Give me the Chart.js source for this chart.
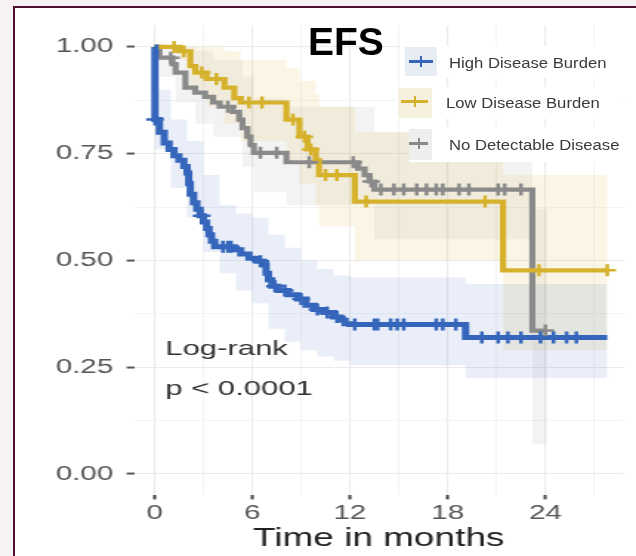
<!DOCTYPE html>
<html>
<head>
<meta charset="utf-8">
<script src="https://cdn.jsdelivr.net/npm/chart.js@4.4.1/dist/chart.umd.min.js"></script>
<style>
  html, body { margin: 0; padding: 0; overflow: hidden; }
  body { width: 636px; height: 556px; background: #f7f1f3; position: relative;
         font-family: "Liberation Sans", Arial, sans-serif; }
  #frame { position: absolute; left: 13px; top: 6px; width: 621px; height: 548px; background: #fff;
           border-left: 2px solid #4d1030; border-top: 2px solid #4d1030; }
  /* the source figure was stretched sideways, so the plot canvas is too */
  #plot { position: absolute; left: 0; top: 0; transform-origin: 0 0; transform: scaleX(1.479); }
  #title { position: absolute; left: 308px; top: 22px; font: bold 39px "Liberation Sans", Arial, sans-serif;
           line-height: 39px; color: #000; }
  .leg { position: absolute; background: #fff; }
  .leg .sym { position: absolute; }
  .leg .ln { position: absolute; height: 3px; }
  .leg .tk { position: absolute; width: 2px; height: 11px; }
  .leg .txt { position: absolute; font-size: 14px; line-height: 16px; color: #3a3a3a; white-space: nowrap;
              transform-origin: 0 50%; transform: scaleX(1.19); }
</style>
</head>
<body>
<div id="frame"></div>
<canvas id="plot" width="430" height="556"></canvas>
<div id="title">EFS</div>
<div id="legend"></div>
<script>
const seriesNames = ['High Disease Burden', 'Low Disease Burden', 'No Detectable Disease'];
const seriesColors = ['#3566bb', '#d6b22c', '#8a8a8a'];
const bandColors = ['rgba(53,102,187,0.11)', 'rgba(214,178,44,0.13)', 'rgba(138,138,138,0.10)'];

const xTicks = [0, 6, 12, 18, 24];
const xMinor = [3, 9, 15, 21, 27];
const yTicks = [0, 0.25, 0.5, 0.75, 1];
const yTickLabels = ['0.00', '0.25', '0.50', '0.75', '1.00'];
const yMinor = [0.125, 0.375, 0.625, 0.875];

// High Disease Burden
const highTime = [0, 0.03, 0.3, 0.6, 0.9, 1.2, 1.5, 1.8, 2.0, 2.1, 2.2, 2.4, 2.6, 2.8, 3.0, 3.2, 3.35, 3.5, 3.7, 4.9,
  5.3, 5.8, 6.3, 6.7, 6.85, 7.0, 7.2, 7.6, 8.2, 8.8, 9.3, 9.8, 10.4, 11.0, 11.4, 11.7, 12.0, 19.1, 27.8];
const highSurv = [1, 0.83, 0.80, 0.775, 0.76, 0.745, 0.735, 0.72, 0.705, 0.68, 0.655, 0.635, 0.62, 0.605, 0.59, 0.575, 0.56, 0.545, 0.532, 0.525,
  0.515, 0.505, 0.498, 0.49, 0.47, 0.455, 0.44, 0.43, 0.42, 0.41, 0.395, 0.385, 0.378, 0.368, 0.36, 0.352, 0.35, 0.32, 0.32];
const highCensorTime = [0.03, 2.9, 4.2, 4.5, 4.7, 6.5, 7.4, 8.0, 9.0, 10.0, 10.6, 11.2, 12.3, 13.5, 13.7, 14.5, 14.9, 15.3, 17.3, 17.7, 18.5,
  20.1, 21.1, 21.7, 22.5, 23.7, 24.5, 25.3, 25.9];
const highCensorSurv = [0.83, 0.605, 0.532, 0.532, 0.532, 0.498, 0.44, 0.43, 0.41, 0.385, 0.378, 0.368, 0.35, 0.35, 0.35, 0.35, 0.35, 0.35, 0.35, 0.35, 0.35,
  0.32, 0.32, 0.32, 0.32, 0.32, 0.32, 0.32, 0.32];
const highBandTime = [0, 0.03, 1, 2, 3, 4, 5, 6, 7, 8, 9, 10, 11, 12, 19.1, 27.8];
const highUpper = [1, 0.90, 0.83, 0.78, 0.70, 0.63, 0.61, 0.60, 0.56, 0.53, 0.50, 0.48, 0.465, 0.46, 0.445, 0.445];
const highLower = [1, 0.76, 0.67, 0.60, 0.52, 0.47, 0.43, 0.40, 0.34, 0.31, 0.29, 0.275, 0.265, 0.255, 0.225, 0.225];

// Low Disease Burden
const lowTime = [0, 1.5, 2.2, 2.5, 3.2, 4.3, 4.9, 5.3, 8.1, 8.9, 9.4, 9.9, 10.1, 12.3, 21.4, 27.8];
const lowSurv = [1, 0.99, 0.955, 0.94, 0.925, 0.905, 0.88, 0.87, 0.83, 0.79, 0.76, 0.735, 0.70, 0.638, 0.477, 0.477];
const lowCensorTime = [1.2, 1.8, 2.9, 3.8, 5.8, 6.6, 8.5, 9.2, 9.6, 10.5, 11.2, 13.0, 20.3, 23.6, 27.8];
const lowCensorSurv = [1, 0.99, 0.94, 0.925, 0.87, 0.87, 0.83, 0.79, 0.76, 0.70, 0.70, 0.638, 0.638, 0.477, 0.477];
const lowBandTime = [0, 1.5, 2.2, 3.2, 4.3, 5.3, 8.1, 8.9, 9.9, 10.1, 12.3, 21.4, 27.8];
const lowUpper = [1, 1, 1, 1, 0.99, 0.97, 0.95, 0.92, 0.89, 0.86, 0.80, 0.70, 0.70];
const lowLower = [1, 0.97, 0.90, 0.86, 0.82, 0.78, 0.73, 0.68, 0.63, 0.58, 0.50, 0.29, 0.29];

// No Detectable Disease
const noneTime = [0, 0.3, 1.1, 1.3, 1.9, 2.5, 3.1, 3.6, 4.0, 4.8, 5.2, 5.4, 5.7, 5.9, 6.1, 8.1, 12.5, 12.9, 13.2, 13.5, 23.2, 24.1];
const noneSurv = [1, 0.975, 0.96, 0.94, 0.905, 0.893, 0.883, 0.87, 0.86, 0.848, 0.83, 0.81, 0.79, 0.77, 0.752, 0.73, 0.715, 0.70, 0.685, 0.666, 0.336, 0.336];
const noneCensorTime = [1.0, 4.5, 6.5, 7.5, 9.5, 12.2, 13.3, 13.9, 14.7, 15.3, 16.1, 16.7, 17.3, 17.7, 18.7, 19.3, 21.1, 21.5, 22.5, 24.0];
const noneCensorSurv = [0.975, 0.86, 0.752, 0.752, 0.73, 0.73, 0.685, 0.666, 0.666, 0.666, 0.666, 0.666, 0.666, 0.666, 0.666, 0.666, 0.666, 0.666, 0.666, 0.336];
const noneBandTime = [0, 0.3, 1.3, 2.5, 3.6, 5.4, 6.1, 8.1, 13.5, 23.2, 24.1];
const noneUpper = [1, 1, 1, 0.99, 0.97, 0.93, 0.88, 0.86, 0.80, 0.62, 0.62];
const noneLower = [1, 0.93, 0.87, 0.82, 0.79, 0.72, 0.66, 0.63, 0.55, 0.07, 0.07];


function toXY(times, vals) {
    return times.map((t, i) => ({ x: t, y: vals[i] }));
}

function stepLine(i, times, vals) {
    return {
        label: seriesNames[i], data: toXY(times, vals), stepped: true,
        borderColor: seriesColors[i], borderWidth: i == 0 ? 5 : 4.2,
        borderJoinStyle: 'miter', pointRadius: 0, fill: false, order: 1
    };
}

function censor(i, times, vals) {
    return {
        label: seriesNames[i] + ' censored', data: toXY(times, vals), showLine: false,
        pointStyle: 'cross', pointRadius: 6, pointBorderWidth: 2.5,
        pointBorderColor: seriesColors[i], borderColor: seriesColors[i], order: 0
    };
}

function band(i, times, vals, fillTo) {
    return {
        label: seriesNames[i] + ' band', data: toXY(times, vals), stepped: true,
        borderWidth: 0, pointRadius: 0, backgroundColor: bandColors[i],
        fill: fillTo == null ? false : fillTo, order: 2
    };
}

const datasets = [
    stepLine(0, highTime, highSurv),
    stepLine(1, lowTime, lowSurv),
    stepLine(2, noneTime, noneSurv),
    censor(0, highCensorTime, highCensorSurv),
    censor(1, lowCensorTime, lowCensorSurv),
    censor(2, noneCensorTime, noneCensorSurv),
    band(0, highBandTime, highUpper, 7),
    band(0, highBandTime, highLower),
    band(1, lowBandTime, lowUpper, 9),
    band(1, lowBandTime, lowLower),
    band(2, noneBandTime, noneUpper, 11),
    band(2, noneBandTime, noneLower)
];

const annotText = {
    id: 'annotText',
    afterDatasetsDraw(chart) {
        const { ctx, scales: { x, y } } = chart;
        ctx.save();
        ctx.fillStyle = '#333';
        ctx.font = '21px "Liberation Sans", Arial, sans-serif';
        ctx.textBaseline = 'alphabetic';
        ctx.fillText('Log-rank', x.getPixelForValue(0.66), y.getPixelForValue(0.279));
        ctx.fillText('p < 0.0001', x.getPixelForValue(0.66), y.getPixelForValue(0.185));
        ctx.restore();
    }
};

const isMajorX = v => xTicks.includes(v);
const isMajorY = v => yTicks.includes(v);

new Chart(document.getElementById('plot'), {
    type: 'line',
    data: { datasets: datasets },
    options: {
        responsive: false,
        animation: false,
        layout: { padding: { top: 25.6, left: 0, right: 0, bottom: 0 } },
        plugins: { legend: { display: false }, tooltip: { enabled: false } },
        scales: {
            x: {
                type: 'linear', min: -1.257, max: 28.79,
                afterBuildTicks: s => { s.ticks = xTicks.concat(xMinor).sort((a, b) => a - b).map(v => ({ value: v })); },
                afterFit: s => { s.height = 60.6; },
                border: { display: false },
                grid: {
                    color: c => isMajorX(c.tick.value) ? '#ebebeb' : '#f4f4f4',
                    lineWidth: 1.1,
                    tickColor: c => isMajorX(c.tick.value) ? '#444' : 'rgba(0,0,0,0)',
                    tickLength: 4, tickWidth: 2
                },
                ticks: {
                    autoSkip: false, maxRotation: 0, padding: 2, color: '#555',
                    font: { family: '"Liberation Sans", Arial, sans-serif', size: 20 },
                    callback: v => isMajorX(v) ? String(v) : ''
                },
                title: {
                    display: true, text: 'Time in months', color: '#222',
                    font: { family: '"Liberation Sans", Arial, sans-serif', size: 25 },
                    padding: { top: 0, bottom: 2 }
                }
            },
            y: {
                min: -0.05, max: 1.05,
                afterBuildTicks: s => { s.ticks = yTicks.concat(yMinor).sort((a, b) => a - b).map(v => ({ value: v })); },
                afterFit: s => { s.width = 90.6; },
                border: { display: false },
                grid: {
                    color: c => isMajorY(c.tick.value) ? '#ebebeb' : '#f4f4f4',
                    lineWidth: 1.1,
                    tickColor: c => isMajorY(c.tick.value) ? '#555' : 'rgba(0,0,0,0)',
                    tickLength: 5, tickWidth: 2
                },
                ticks: {
                    autoSkip: false, padding: 9, color: '#555',
                    font: { family: '"Liberation Sans", Arial, sans-serif', size: 20 },
                    callback: v => isMajorY(v) ? yTickLabels[yTicks.indexOf(v)] : ''
                }
            }
        }
    },
    plugins: [annotText]
});

// legend boxes, laid out like the pasted legend of the figure
const legendRows = [
    { box: [400, 46, 225, 32], sym: [405, 47, 32, 29], symBg: '#e8edf5', line: [409, 60, 24], txt: [449, 55] },
    { box: [396, 87, 226, 32], sym: [398, 88, 34, 30], symBg: '#f6f1de', line: [401, 100, 27], txt: [446, 95] },
    { box: [409, 127, 227, 35], sym: [409, 129, 23, 31], symBg: '#eeeeee', line: [409, 142, 19], txt: [449, 137] }
];
const legendEl = document.getElementById('legend');
legendRows.forEach((r, i) => {
    const box = document.createElement('div');
    box.className = 'leg';
    box.style.cssText = `left:${r.box[0]}px;top:${r.box[1]}px;width:${r.box[2]}px;height:${r.box[3]}px;`;
    const ox = r.box[0], oy = r.box[1];
    box.innerHTML =
        `<div class="sym" style="left:${r.sym[0] - ox}px;top:${r.sym[1] - oy}px;width:${r.sym[2]}px;height:${r.sym[3]}px;background:${r.symBg}"></div>` +
        `<div class="ln" style="left:${r.line[0] - ox}px;top:${r.line[1] - oy}px;width:${r.line[2]}px;background:${seriesColors[i]}"></div>` +
        `<div class="tk" style="left:${r.line[0] - ox + r.line[2] / 2 - 1}px;top:${r.line[1] - oy - 4}px;background:${seriesColors[i]}"></div>` +
        `<div class="txt" style="left:${r.txt[0] - ox}px;top:${r.txt[1] - oy}px">${seriesNames[i]}</div>`;
    legendEl.appendChild(box);
});
</script>
</body>
</html>
